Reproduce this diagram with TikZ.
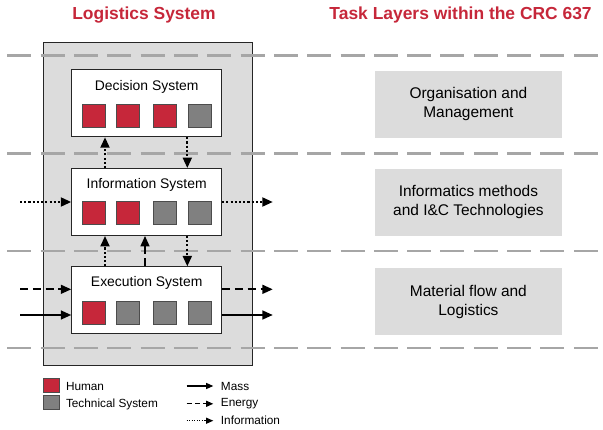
\documentclass[tikz,border=0pt]{standalone}
\usepackage{fontspec}
\setmainfont{Liberation Sans}
\usetikzlibrary{arrows.meta}
\definecolor{rosso}{RGB}{198,39,58}
\definecolor{grigio}{RGB}{128,128,128}
\definecolor{grigiochiaro}{RGB}{220,220,220}
\definecolor{tratteggio}{RGB}{166,166,166}

\begin{document}
\begin{tikzpicture}[
    titolo/.style={font=\fontsize{12.4}{15}\selectfont\bfseries, text=rosso, inner sep=0pt},
    contenitore/.style={draw=black!85, fill=grigiochiaro, line width=0.6pt, minimum width=5.225cm, minimum height=8.075cm, inner sep=0pt},
    sistema/.style={draw=black!85, fill=white, line width=0.6pt, minimum width=3.75cm, minimum height=1.675cm, inner sep=0pt},
    nome/.style={font=\fontsize{9.9}{12}\selectfont, inner sep=0pt},
    quadro/.style={draw=black!70, line width=0.5pt, minimum size=0.57cm, inner sep=0pt},
    quadretto/.style={draw=black!70, line width=0.5pt, minimum width=0.39cm, minimum height=0.35cm, inner sep=0pt},
    compito/.style={fill=grigiochiaro, minimum width=4.675cm, minimum height=1.675cm, align=center, font=\fontsize{11}{13.3}\selectfont},
    livello/.style={draw=tratteggio, line width=2.1pt, dash pattern=on 0.6cm off 0.233cm},
    flussomassa/.style={line width=1.4pt, -{Triangle[length=0.26cm,width=0.22cm]}},
    flussoenergia/.style={flussomassa, dash pattern=on 0.2cm off 0.12cm},
    flussoinfo/.style={flussomassa, line width=1.6pt, dash pattern=on 1.5pt off 1.5pt},
    voce/.style={line width=0.9pt, -{Triangle[length=0.18cm,width=0.15cm]}},
    legenda/.style={font=\fontsize{8.4}{10}\selectfont, anchor=west, inner sep=0pt}
]
    \useasboundingbox (0,0) rectangle (15.075,-10.75);

    % Titoli
    \node (ls) at (3.6,-0.375) [titolo] {Logistics System};
    \node (tl) at (11.515,-0.375) [titolo] {Task Layers within the CRC 637};

    % Sistema logistico
    \node (log) at (3.6875,-5.0875) [contenitore] {};

    % Livelli
    \draw[livello] (0.183,-1.393) -- (14.95,-1.393);
    \draw[livello] (0.183,-3.833) -- (14.95,-3.833);
    \draw[livello] (0.183,-6.275) -- (14.95,-6.275);
    \draw[livello] (0.183,-8.7) -- (14.95,-8.7);

    % Sottosistemi
    \node (dec) at (3.667,-2.583) [sistema] {};
    \node (inf) at (3.667,-5.05) [sistema] {};
    \node (ese) at (3.667,-7.508) [sistema] {};
    \node (dect) at (3.667,-2.175) [nome] {Decision System};
    \node (inft) at (3.667,-4.625) [nome] {Information System};
    \node (eset) at (3.667,-7.083) [nome] {Execution System};

    % Uomo e sistema tecnico
    \node (d1) at (2.355,-2.9) [quadro, fill=rosso] {};
    \node (d2) at (3.19,-2.9) [quadro, fill=rosso] {};
    \node (d3) at (4.118,-2.9) [quadro, fill=rosso] {};
    \node (d4) at (5.005,-2.9) [quadro, fill=grigio] {};
    \node (i1) at (2.355,-5.316) [quadro, fill=rosso] {};
    \node (i2) at (3.19,-5.316) [quadro, fill=rosso] {};
    \node (i3) at (4.118,-5.316) [quadro, fill=grigio] {};
    \node (i4) at (5.005,-5.316) [quadro, fill=grigio] {};
    \node (e1) at (2.355,-7.825) [quadro, fill=rosso] {};
    \node (e2) at (3.19,-7.825) [quadro, fill=grigio] {};
    \node (e3) at (4.118,-7.825) [quadro, fill=grigio] {};
    \node (e4) at (5.005,-7.825) [quadro, fill=grigio] {};

    % Collegamenti verticali
    \coordinate (su) at (2.625,0);
    \coordinate (en) at (3.625,0);
    \coordinate (giu) at (4.683,0);
    \draw[flussoinfo] (inf.north -| su) -- (dec.south -| su);
    \draw[flussoinfo] (dec.south -| giu) -- (inf.north -| giu);
    \draw[flussoinfo] (ese.north -| su) -- (inf.south -| su);
    \draw[flussoenergia] (ese.north -| en) -- (inf.south -| en);
    \draw[flussoinfo] (inf.south -| giu) -- (ese.north -| giu);

    % Ingressi e uscite
    \coordinate (infin) at (0.5,-5.05);
    \coordinate (infout) at (6.82,-5.05);
    \coordinate (enin) at (0.5,-7.233);
    \coordinate (enout) at (6.82,-7.233);
    \coordinate (main) at (0.5,-7.875);
    \coordinate (maout) at (6.82,-7.875);
    \draw[flussoinfo] (infin) -- (inf.west);
    \draw[flussoinfo] (inf.east) -- (infout);
    \draw[flussoenergia] (enin) -- (ese.west |- enin);
    \draw[flussoenergia] (ese.east |- enout) -- (enout);
    \draw[flussomassa] (main) -- (ese.west |- main);
    \draw[flussomassa] (ese.east |- maout) -- (maout);

    % Livelli di compito
    \node (org) at (11.71,-2.608) [compito] {Organisation and\\Management};
    \node (ict) at (11.71,-5.058) [compito] {Informatics methods\\and I\&C Technologies};
    \node (mat) at (11.71,-7.542) [compito] {Material flow and\\Logistics};

    % Legenda
    \node (lu) at (1.28,-9.625) [quadretto, fill=rosso] {};
    \node (lt) at (1.28,-10.055) [quadretto, fill=grigio] {};
    \node (lut) at (1.643,-9.667) [legenda] {Human};
    \node (ltt) at (1.643,-10.108) [legenda] {Technical System};
    \coordinate (m1) at (4.667,-9.65);
    \coordinate (m2) at (5.333,-9.65);
    \coordinate (n1) at (4.667,-10.095);
    \coordinate (n2) at (5.333,-10.095);
    \coordinate (o1) at (4.667,-10.518);
    \coordinate (o2) at (5.333,-10.518);
    \draw[voce] (m1) -- (m2);
    \draw[voce, dash pattern=on 0.13cm off 0.08cm] (n1) -- (n2);
    \draw[voce, line width=0.7pt, dash pattern=on 0.8pt off 1pt] (o1) -- (o2);
    \node (mt) at (5.517,-9.65) [legenda] {Mass};
    \node (nt) at (5.517,-10.083) [legenda] {Energy};
    \node (ot) at (5.517,-10.518) [legenda] {Information};
\end{tikzpicture}
\end{document}
